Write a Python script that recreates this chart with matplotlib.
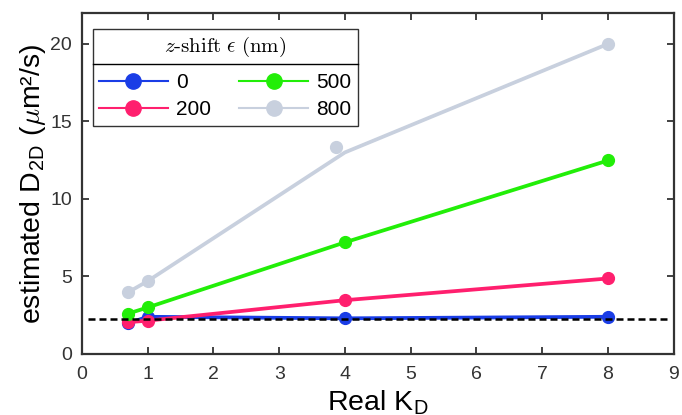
import matplotlib
matplotlib.use("Agg")
import matplotlib.pyplot as plt
from matplotlib.lines import Line2D
import numpy as np

plt.rcParams['font.family'] = ['Liberation Sans', 'DejaVu Sans']
plt.rcParams['mathtext.fontset'] = 'cm'

# data
real_kd = [0.7, 1, 4, 8]
shifts = ["0", "200", "500", "800"]
d_0 = [1.97, 2.4, 2.3, 2.4]
d_200 = [2.05, 2.15, 3.47, 4.87]
d_500 = [2.6, 3.0, 7.2, 12.48]
d_800_line = [3.97, 4.7, 13.0, 20.0]
kd_800_marker = [0.7, 1, 3.86, 8]
d_800_marker = [3.97, 4.7, 13.38, 20.0]
true_d = 2.25

colors = ["#1a3de6", "#ff1f6e", "#22ee08", "#c8d0de"]

fig = plt.figure(figsize=(6.82, 4.15), dpi=100)
ax = fig.add_axes([0.120, 0.147, 0.868, 0.822])

ax.plot([0.1, 8.9], [true_d, true_d], ls=(0, (2.8, 1.6)), color="black", lw=1.8, zorder=5)

series = [(real_kd, d_0, real_kd, d_0),
          (real_kd, d_200, real_kd, d_200),
          (real_kd, d_500, real_kd, d_500),
          (real_kd, d_800_line, kd_800_marker, d_800_marker)]
for (lx, ly, mx, my), c in zip(series, colors):
    ax.plot(lx, ly, color=c, lw=2.7, zorder=3)
    ax.plot(mx, my, 'o', color=c, ms=8.5, zorder=4)

ax.set_xlim(0, 9)
ax.set_ylim(0, 22)
ax.set_xticks(np.arange(0, 10, 1))
ax.set_yticks([0, 5, 10, 15, 20])
ax.tick_params(direction="in", top=True, right=True, length=5, width=1.3,
               labelsize=14, colors="#333333")
ax.tick_params(axis="x", pad=9)
ax.tick_params(axis="y", pad=7)
for s in ax.spines.values():
    s.set_linewidth(1.6)
    s.set_color("#333333")

ax.set_xlabel(r"Real K$_\mathregular{D}$", fontsize=20.5, labelpad=3)
ax.set_ylabel(r"estimated D$_\mathregular{2D}$ ($\mu$m²/s)", fontsize=20.5, labelpad=2)

handles = [Line2D([], [], color=c, lw=1.5, marker='o', ms=11) for c in colors]
leg = ax.legend(handles, shifts, ncol=2, fontsize=15,
                title=r"$z\text{-shift}\ \epsilon\ (\mathrm{nm})$", title_fontsize=15,
                loc="upper left", bbox_to_anchor=(0.0186, 0.3, 0.4474, 0.653),
                mode="expand", borderaxespad=0, frameon=True, fancybox=False,
                edgecolor="black", handlelength=3.3, columnspacing=1.0,
                borderpad=0.3, labelspacing=0.4, handletextpad=0.4)
leg.get_frame().set_linewidth(1.0)
leg._legend_box.sep = 10

fig.canvas.draw()
tb = leg.get_title().get_window_extent()
fb = leg.get_frame().get_window_extent()
inv = ax.transAxes.inverted()
y_sep = inv.transform((0, tb.y0 - 5))[1]
x0 = inv.transform((fb.x0, 0))[0]
x1 = inv.transform((fb.x1, 0))[0]
ax.plot([x0, x1], [y_sep, y_sep], transform=ax.transAxes, color="black",
        lw=1.0, zorder=10, clip_on=False)

fig.savefig("out.png", dpi=100)
